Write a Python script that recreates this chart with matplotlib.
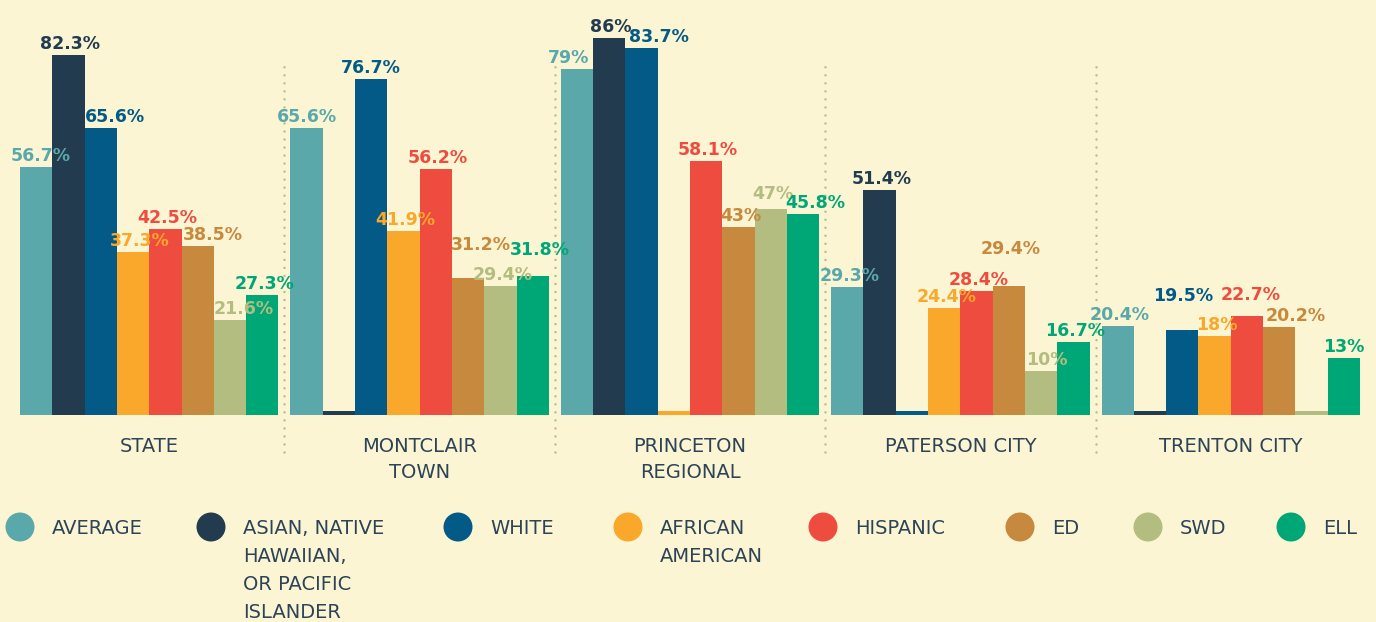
import matplotlib
matplotlib.use("Agg")
import matplotlib.pyplot as plt
from matplotlib.patches import Circle

# data
groups = ["STATE", "MONTCLAIR\nTOWN", "PRINCETON\nREGIONAL", "PATERSON CITY", "TRENTON CITY"]
series = ["AVERAGE", "ASIAN, NATIVE\nHAWAIIAN,\nOR PACIFIC\nISLANDER", "WHITE",
          "AFRICAN\nAMERICAN", "HISPANIC", "ED", "SWD", "ELL"]
# None = no data (drawn as a thin stub, no label)
average = [56.7, 65.6, 79.0, 29.3, 20.4]
asian = [82.3, None, 86.0, 51.4, None]
white = [65.6, 76.7, 83.7, None, 19.5]
african_american = [37.3, 41.9, None, 24.4, 18.0]
hispanic = [42.5, 56.2, 58.1, 28.4, 22.7]
ed = [38.5, 31.2, 43.0, 29.4, 20.2]
swd = [21.6, 29.4, 47.0, 10.0, None]
ell = [27.3, 31.8, 45.8, 16.7, 13.0]
values = [average, asian, white, african_american, hispanic, ed, swd, ell]

colors = ["#5ba8ab", "#223b4f", "#035a86", "#f9a82b", "#ee4c3e", "#c7893d", "#b4bd80", "#00a776"]
bg = "#fbf5d3"
text_col = "#2d4356"
sep_col = "#b9bd8c"

# hand nudges of value labels (pixels, right / up), keyed by (group, series)
nudge = {
    (0, 0): (2, 0), (0, 2): (12, 0), (0, 3): (5, 0), (0, 5): (13, 0), (0, 6): (12, 0),
    (1, 0): (-2, 0), (1, 1): (-2, 0), (1, 2): (-2, 0), (1, 5): (11, 22), (1, 7): (5, 15),
    (2, 0): (-10, 0), (2, 2): (15, 0), (2, 6): (0, 4), (2, 7): (10, 0),
    (3, 5): (0, 26), (3, 6): (4, 0),
    (4, 2): (-1, 23), (4, 4): (2, 10), (4, 5): (14, 0), (4, 7): (-2, 0),
}

STUB = 0.8
PITCH = 8.37  # group pitch in bar widths
W, H = 1376, 622
PX = 72 / 100  # points per pixel

fig = plt.figure(figsize=(W / 100, H / 100), dpi=100, facecolor=bg)
ax = fig.add_axes([20 / W, 207 / H, 1340 / W, 415 / H])
ax.set_facecolor(bg)
ax.set_xlim(0, 4 * PITCH + 8)
ax.set_ylim(0, 415 / 4.38)
ax.axis("off")

for j, (vals, col) in enumerate(zip(values, colors)):
    xs = [g * PITCH + j for g in range(len(groups))]
    hs = [STUB if v is None else v for v in vals]
    ax.bar(xs, hs, width=1.0, align="edge", color=col, linewidth=0, zorder=2)
    for g, (x, v) in enumerate(zip(xs, vals)):
        if v is None:
            continue
        dx, dy = nudge.get((g, j), (0, 0))
        ax.annotate(f"{v:g}%", (x + 0.5, v), xytext=((2 + dx) * PX, (6 + dy) * PX),
                    textcoords="offset points", ha="center", va="baseline", color=col,
                    fontsize=12.5, fontweight="bold", family="DejaVu Sans", zorder=5)

# dotted separators
for g in range(1, len(groups)):
    xs = g * PITCH - (PITCH - 8) / 2
    ax.plot([xs, xs], [-37 / 4.38, 350 / 4.38], color=sep_col, lw=1.8,
            linestyle=(0, (0.01, 3.2)), dash_capstyle="round", clip_on=False, zorder=1)

# overlay in pixel coords for category labels and legend
lay = fig.add_axes([0, 0, 1, 1])
lay.set_xlim(0, W)
lay.set_ylim(H, 0)
lay.axis("off")
lay.patch.set_alpha(0)

for g, name in enumerate(groups):
    cx = 20 + (g * PITCH + 4) * 1340 / (4 * PITCH + 8)
    for k, line in enumerate(name.split("\n")):
        lay.text(cx, 446 + k * 27, line, ha="center", va="center", fontsize=14,
                 family="DejaVu Sans", color=text_col)

circ_x = [20, 211, 458, 628, 823, 1020, 1148, 1291]
for cx, name, col in zip(circ_x, series, colors):
    lay.add_patch(Circle((cx, 527), 14.5, color=col, lw=0))
    for k, line in enumerate(name.split("\n")):
        lay.text(cx + 32, 528 + k * 28, line, ha="left", va="center", fontsize=14,
                 family="DejaVu Sans", color=text_col)

fig.savefig("out.png", dpi=100, facecolor=bg)
